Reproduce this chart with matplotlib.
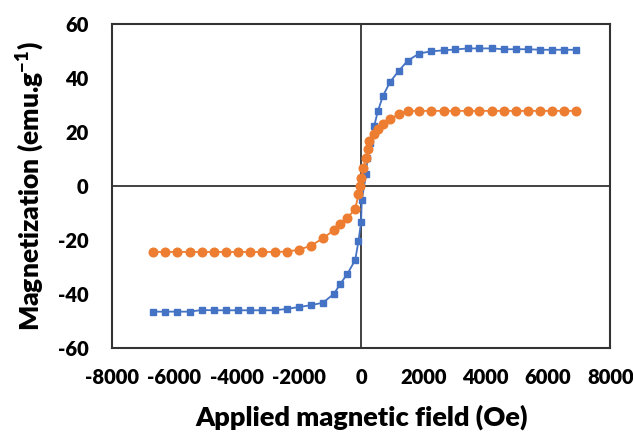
import matplotlib
matplotlib.use("Agg")
import matplotlib.pyplot as plt

plt.rcParams['font.family'] = ['Lato', 'DejaVu Sans']
plt.rcParams['font.weight'] = 'heavy'
plt.rcParams['axes.unicode_minus'] = False
plt.rcParams['mathtext.fontset'] = 'custom'
plt.rcParams['mathtext.rm'] = 'Lato'
plt.rcParams['mathtext.bf'] = 'Lato:heavy'

# 磁場 (Oe) と磁化 (emu/g)
field_blue = [-6680, -6290, -5900, -5510, -5120, -4730, -4340, -3950, -3560, -3170,
              -2780, -2390, -2000, -1610, -1230, -870, -680, -440, -190, -85,
              0, 20, 160, 200, 300, 420, 540, 700, 930, 1210,
              1490, 1860, 2240, 2650, 3030, 3420, 3800, 4190, 4580, 4960,
              5370, 5760, 6140, 6530, 6910]
mag_blue = [-46.5, -46.5, -46.5, -46.5, -45.9, -46.0, -46.0, -46.0, -46.0, -46.0,
            -46.0, -45.5, -44.8, -44.1, -43.2, -39.9, -36.4, -32.5, -27.4, -20.4,
            -13.2, -5.3, 4.3, 10.2, 16.0, 22.2, 27.8, 33.3, 38.5, 42.6,
            46.3, 49.0, 49.8, 50.2, 50.5, 50.9, 50.9, 50.9, 50.6, 50.6,
            50.6, 50.4, 50.4, 50.4, 50.4]

field_orange = [-6680, -6290, -5900, -5510, -5120, -4730, -4340, -3950, -3560, -3170,
                -2780, -2390, -2000, -1610, -1230, -870, -680, -440, -190, -85,
                -40, 0, 75, 160, 215, 268, 400, 540, 700, 930,
                1210, 1490, 1860, 2240, 2650, 3030, 3420, 3800, 4190, 4580,
                4960, 5370, 5760, 6140, 6530, 6910]
mag_orange = [-24.4, -24.4, -24.4, -24.4, -24.4, -24.4, -24.4, -24.4, -24.4, -24.4,
              -24.4, -24.3, -23.6, -22.1, -19.4, -16.3, -14.2, -11.7, -8.6, -3.0,
              0.0, 3.1, 6.8, 10.5, 13.8, 16.7, 19.1, 21.0, 22.8, 24.7,
              26.5, 27.8, 27.8, 27.8, 27.8, 27.8, 27.8, 27.8, 27.8, 27.8,
              27.8, 27.8, 27.8, 27.8, 27.8, 27.8]

xticks = [-8000, -6000, -4000, -2000, 0, 2000, 4000, 6000, 8000]
yticks = [-60, -40, -20, 0, 20, 40, 60]

fig = plt.figure(figsize=(6.33, 4.33), dpi=100)
ax = fig.add_axes([0.177, 0.196, 0.787, 0.749])

ax.axhline(0, color='#333333', lw=1.3, zorder=1)
ax.axvline(0, color='#333333', lw=1.3, zorder=1)

ax.plot(field_blue, mag_blue, color='#4472C4', marker='s', markersize=4.8, lw=1.3, zorder=2)
ax.plot(field_orange, mag_orange, color='#ED7D31', marker='o', markersize=6.2, lw=1.3, zorder=3)

ax.set_xlim(-8000, 8000)
ax.set_ylim(-60, 60)
ax.set_xticks(xticks)
ax.set_yticks(yticks)
ax.tick_params(length=0, labelsize=14.5)
ax.tick_params(axis='x', pad=14)
ax.tick_params(axis='y', pad=17)
for lab in ax.get_xticklabels() + ax.get_yticklabels():
    lab.set_fontweight('heavy')
for s in ax.spines.values():
    s.set_color('#333333')
    s.set_linewidth(1.5)

ax.set_xlabel('Applied magnetic field (Oe)', fontsize=19.5, fontweight='heavy', labelpad=13)
ax.set_ylabel(r'Magnetization (emu.g$^{\mathbf{-1}}$)', fontsize=19, fontweight='heavy', labelpad=8)

fig.savefig('out.png', dpi=100)
